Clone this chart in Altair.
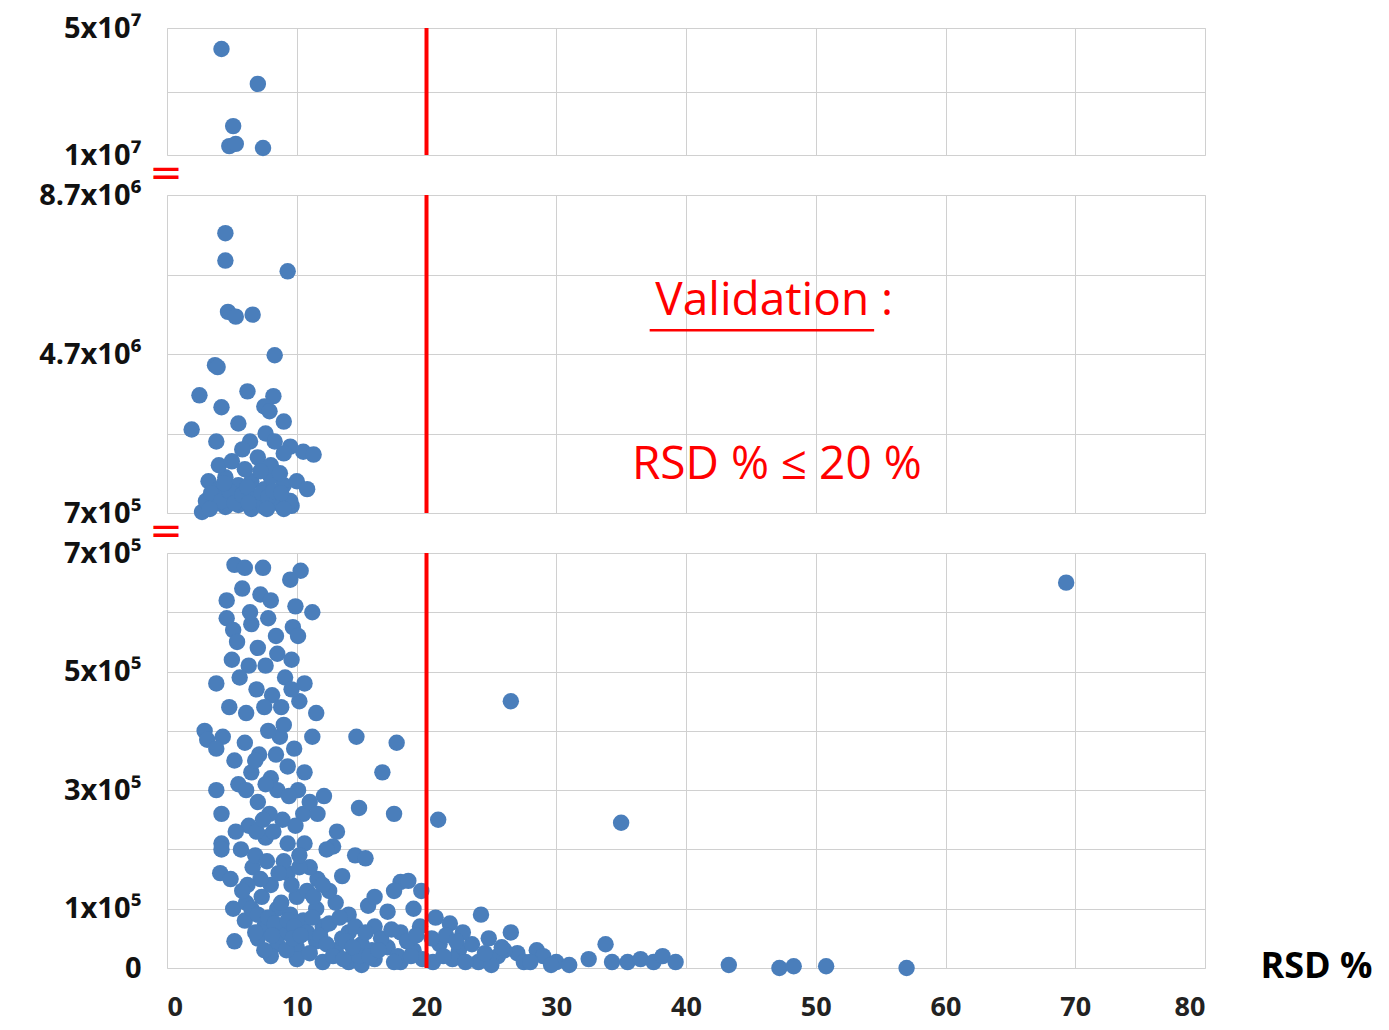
import pandas as pd
import altair as alt

# --- data (RSD %, intensity) ---
top_rsd = [4.2, 7.0, 5.1, 4.8, 5.3, 7.4]
top_val = [4.34e7, 3.24e7, 1.91e7, 1.28e7, 1.35e7, 1.22e7]

mid_rsd = [4.5, 4.5, 9.3, 4.7, 5.3, 6.6, 8.3, 3.7, 3.9, 2.5, 6.2, 8.2, 4.2, 7.5, 1.9, 5.5,
           7.9, 9.0, 10.5, 11.3, 9.5, 3.8, 6.4, 7.6, 2.7, 9.6,
           3.2, 4.0, 4.5, 5.0, 5.5, 6.0, 6.5, 7.0, 7.5, 8.0, 8.5, 9.0, 9.5, 10.0, 10.8,
           3.5, 4.5, 5.5, 6.5, 7.5, 8.5, 9.0, 4.0, 5.0, 6.0, 7.0, 8.0, 9.0, 8.3, 3.0, 7.2, 5.8,
           3.4, 4.2, 4.8, 5.2, 5.8, 6.2, 6.8, 7.3, 7.8, 8.2, 8.8, 3.3, 4.4, 6.3, 7.7, 8.7]
mid_val = [7.74e6, 7.05e6, 6.78e6, 5.76e6, 5.64e6, 5.69e6, 4.67e6, 4.42e6, 4.37e6, 3.66e6,
           3.76e6, 3.64e6, 3.36e6, 3.38e6, 2.8e6, 2.95e6, 3.26e6, 3.0e6, 2.24e6, 2.17e6,
           2.37e6, 2.5e6, 2.5e6, 2.7e6, 7.25e5, 8.8e5,
           1.5e6, 1.3e6, 1.6e6, 1.1e6, 1.4e6, 1.2e6, 1.5e6, 1.0e6, 1.3e6, 1.6e6, 1.1e6,
           1.4e6, 1.0e6, 1.5e6, 1.3e6,
           0.9e6, 0.85e6, 0.9e6, 0.8e6, 0.85e6, 0.95e6, 0.8e6, 1.9e6, 2.0e6, 1.8e6, 2.1e6,
           1.9e6, 2.2e6, 2.5e6, 1.0e6, 1.75e6, 2.3e6,
           1.2e6, 1.0e6, 1.25e6, 0.95e6, 1.15e6, 1.35e6, 1.05e6, 1.2e6, 1.1e6, 1.25e6,
           1.2e6, 0.8e6, 1.45e6, 0.95e6, 0.8e6, 1.7e6]

bot_pts = [(5.2,6.8),(6,6.75),(7.4,6.75),(10.3,6.7),(9.5,6.55),(4.6,6.2),(5.8,6.4),(7.2,6.3),
           (8,6.2),(11.2,6.0),(4.6,5.9),(5.1,5.7),(6.5,5.8),(7.8,5.9),(9.7,5.75),(10.1,5.6),
           (5.0,5.2),(6.3,5.1),(7,5.4),(8.5,5.3),(9.6,5.2),(3.8,4.8),(5.6,4.9),(6.9,4.7),
           (8.1,4.6),(9.1,4.9),(10.2,4.5),(11.5,4.3),(4.8,4.4),(7.5,4.4),(2.9,4.0),(3.1,3.85),
           (4.3,3.9),(6.0,3.8),(8.7,3.9),(11.2,3.9),(14.6,3.9),(17.7,3.8),(5.2,3.5),(7.1,3.6),
           (9.3,3.4),(16.6,3.3),(3.8,3.0),(5.5,3.1),(8,3.2),(10.1,3.0),(12.1,2.9),(14.8,2.7),
           (17.5,2.6),(20.9,2.5),(26.5,4.5),(35,2.45),(69.3,6.5),(4.2,2.6),(6.3,2.4),(8.9,2.5),
           (13.1,2.3),(4.2,2.1),(5.7,2.0),(7.6,2.2),(10.6,2.1),(12.8,2.05),(14.5,1.9),(15.3,1.85),
           (4.1,1.6),(4.9,1.5),(6.6,1.7),(9.3,1.6),(11.6,1.5),(13.5,1.55),(18,1.45),(18.6,1.47),
           (5.1,1.0),(6.1,1.1),(7.3,1.2),(8.5,1.0),(10,1.2),(11.5,1.0),(13,1.1),(15.5,1.05),
           (17,0.95),(19,1.0),(20.7,0.85),(21.8,0.75),(24.2,0.9),(6,0.8),(7.5,0.7),(9,0.6),
           (10.5,0.8),(12,0.7),(14,0.6),(16,0.7),(18,0.6),(19.5,0.7),(5.2,0.45),(7,0.5),
           (8.5,0.4),(10,0.35),(11.5,0.45),(13,0.3),(15,0.4),(17,0.35),(19,0.3),(21,0.4),
           (22.5,0.3),(23.5,0.4),(24.8,0.5),(26.5,0.6),(28.5,0.3),(27,0.25),(29,0.2),(8,0.2),
           (10,0.15),(12,0.1),(14,0.1),(16,0.15),(18,0.1),(20.5,0.1),(22,0.15),(24,0.1),
           (25.5,0.2),(27.5,0.1),(30,0.1),(31,0.05),(32.5,0.15),(33.8,0.4),(34.3,0.1),(35.5,0.1),
           (36.5,0.15),(37.5,0.1),(38.2,0.2),(39.2,0.1),(43.3,0.05),(47.2,0),(48.3,0.03),
           (50.8,0.03),(57,0),(15,0.05),(14.8,0.2),(13.5,0.5),(9.5,0.9),(8,1.4),(9,1.8),
           (10.5,2.6),(11,2.8),(7,2.8),(8.5,3.0),(9.8,3.7),(9,4.1),(7.8,4.0),(6.5,3.3),
           (5.3,2.3),(3.8,3.7),(12.3,2.0),(11,1.7),(12.5,1.3),(16,1.2),(14,0.9),(17.5,1.3),
           (19.6,1.3),(4.2,2.0),(6.8,1.9),(7.9,2.6),
           # dense core near the bottom left
           (6.5,1.0),(7,0.9),(7.8,0.85),(8.3,0.75),(8.8,1.1),(9.3,0.8),(9.8,0.7),(10.8,0.6),
           (11.2,0.85),(11.8,0.55),(12.5,0.75),(13.3,0.85),(13.8,0.45),(14.5,0.7),(15.3,0.6),
           (15.8,0.3),(16.5,0.5),(17.3,0.65),(17.8,0.2),(18.5,0.45),(19.2,0.55),(19.7,0.15),
           (6.8,0.6),(7.5,0.3),(8.1,0.55),(9.2,0.3),(9.7,0.5),(10.3,0.55),(11,0.25),(12.3,0.4),
           (12.8,0.2),(13.6,0.15),(14.3,0.35),(15.6,0.2),(16.3,0.3),(17.5,0.1),(18.8,0.2),
           (7.2,1.5),(7.7,1.8),(8.6,1.6),(9.6,1.4),(10.2,1.7),(10.8,1.3),(11.3,1.2),(12,1.4),
           (6.2,1.4),(5.8,1.3),(6.9,2.3),(7.4,2.5),(8.2,2.3),(9.3,2.1),(9.9,2.4),(10.2,1.9),
           (6.1,3.0),(6.8,3.5),(7.6,3.1),(8.4,3.6),(9.4,2.9),(10.6,3.3),(11.6,2.6),(8.8,4.4),
           (9.6,4.7),(10.6,4.8),(7.6,5.1),(8.4,5.6),(6.4,6.0),(9.9,6.1),(6.1,4.3),(5.4,5.5),
           (20.4,0.5),(21.3,0.2),(22.8,0.6),(23,0.1),(25,0.05),(26,0.3),(28,0.1),(29.6,0.05),
           (21.5,0.55),(22.3,0.45),(25.8,0.35),(24.5,0.25)]
bot_rsd = [p[0] for p in bot_pts]
bot_val = [p[1] * 1e5 for p in bot_pts]

x_ticks = [0, 10, 20, 30, 40, 50, 60, 70, 80]
top_ticks = [1e7, 3e7, 5e7]
mid_ticks = [7e5, 2.7e6, 4.7e6, 6.7e6, 8.7e6]
bot_ticks = [i * 1e5 for i in range(8)]

BLUE = "#4a7ebb"
RED = "#ff0000"
FONT = "Open Sans"
W = 1038


def panel(rsd, val, domain, ticks, label_expr, h, show_x=False):
    df = pd.DataFrame({"rsd": rsd, "val": val})
    if show_x:
        xaxis = alt.Axis(values=x_ticks, labelFontSize=27, labelFont=FONT,
                         labelFontWeight="bold", labelColor="#222", labelPadding=26,
                         domain=False, ticks=False, gridColor="#d0d0d0",
                         title="RSD %", titleFont=FONT, titleFontSize=36,
                         titleFontWeight="bold", titleAnchor="start", titleAlign="left",
                         titleX=W + 55, titleY=-2, titleBaseline="middle")
    else:
        xaxis = alt.Axis(values=x_ticks, labels=False, domain=False, ticks=False,
                         gridColor="#d0d0d0", title=None)
    x = alt.X("rsd:Q", scale=alt.Scale(domain=[0, 80], nice=False), axis=xaxis)
    y = alt.Y("val:Q", scale=alt.Scale(domain=domain, nice=False, zero=False),
              axis=alt.Axis(values=ticks, labelExpr=label_expr, title=None,
                            domain=False, ticks=False, gridColor="#d0d0d0",
                            labelFont=FONT, labelFontSize=29, labelFontWeight="bold",
                            labelColor="#111", labelPadding=26))
    pts = alt.Chart(df).mark_circle(size=270, opacity=1, color=BLUE).encode(x=x, y=y)
    rule = alt.Chart(pd.DataFrame({"rsd": [20]})).mark_rule(color=RED, strokeWidth=4).encode(x="rsd:Q")
    return alt.layer(pts, rule).properties(width=W, height=h)


def brk(dy):
    return alt.Chart(pd.DataFrame({"t": ["="]})).mark_text(
        color=RED, fontSize=40, font="DejaVu Sans", fontWeight="normal", baseline="middle"
    ).encode(x=alt.value(-1), y=alt.value(dy), text="t:N")


top = panel(top_rsd, top_val, [1e7, 5e7], top_ticks,
            "datum.value == 5e7 ? '5x10⁷' : datum.value == 1e7 ? '1x10⁷' : ''", 127)

mid = panel(mid_rsd, mid_val, [7e5, 8.7e6], mid_ticks,
            "datum.value == 8.7e6 ? '8.7x10⁶' : datum.value == 4.7e6 ? '4.7x10⁶' : "
            "datum.value == 7e5 ? '7x10⁵' : ''", 318)

notes = pd.DataFrame({"rsd": [46.8, 47.0], "val": [6.04e6, 1.92e6],
                      "txt": ["Validation :", "RSD % ≤ 20 %"]})
note_text = alt.Chart(notes).mark_text(color=RED, fontSize=46, font=FONT).encode(
    x="rsd:Q", y="val:Q", text="txt:N")
underline = alt.Chart(pd.DataFrame({"rsd": [37.2], "rsd2": [54.5], "val": [5.3e6]})).mark_rule(
    color=RED, strokeWidth=2.5).encode(x="rsd:Q", x2="rsd2:Q", y="val:Q")
mid = alt.layer(mid, note_text, underline, brk(-21))

bot = panel(bot_rsd, bot_val, [0, 7e5], bot_ticks,
            "datum.value == 0 ? '0' : datum.value == 1e5 ? '1x10⁵' : datum.value == 3e5 ? '3x10⁵' : "
            "datum.value == 5e5 ? '5x10⁵' : datum.value == 7e5 ? '7x10⁵' : ''", 415, show_x=True)
bot = alt.layer(bot, brk(-21))

chart = alt.vconcat(top, mid, bot, spacing=40, bounds="flush").properties(
    padding={"left": 30, "top": 5, "right": 0, "bottom": 12}
).configure_view(stroke="#c8c8c8").configure(background="white")

chart.save("out.html", embed_options={"renderer": "svg", "actions": False})
